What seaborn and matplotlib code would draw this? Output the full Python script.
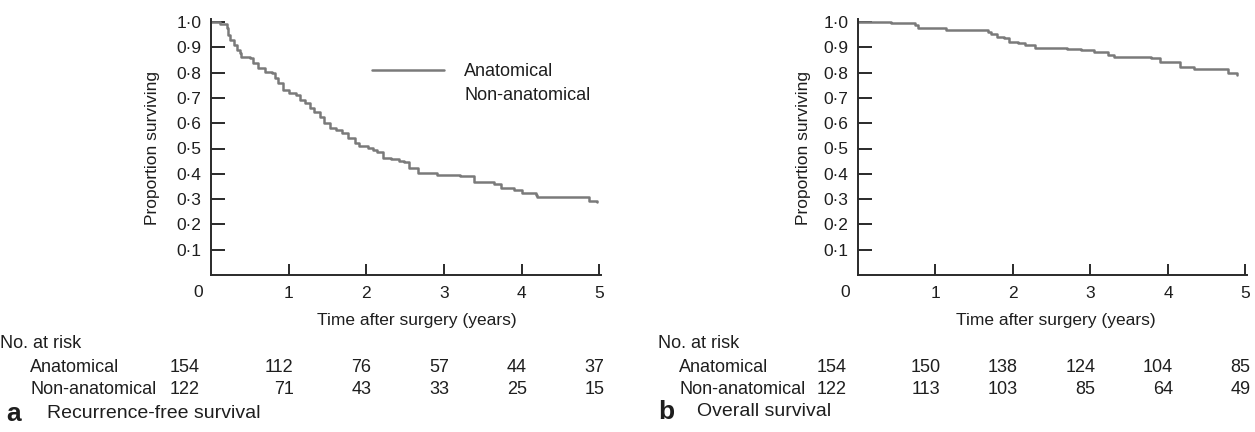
import numpy as np
import pandas as pd
import matplotlib
matplotlib.use("Agg")
import matplotlib.pyplot as plt
from matplotlib.lines import Line2D
import seaborn as sns

# ---------------- data ----------------
# a: Recurrence-free survival, Anatomical group (KM steps)
rfs_time = [0.00, 0.115, 0.20, 0.22, 0.24, 0.29, 0.33, 0.37, 0.39, 0.50, 0.54, 0.61,
            0.69, 0.78, 0.82, 0.86, 0.93, 1.01, 1.10, 1.14, 1.21, 1.27, 1.33, 1.40,
            1.46, 1.53, 1.61, 1.68, 1.76, 1.85, 1.91, 2.02, 2.08, 2.14, 2.21, 2.32,
            2.42, 2.49, 2.55, 2.66, 2.91, 3.21, 3.38, 3.64, 3.73, 3.90, 4.00, 4.18,
            4.20, 4.86, 4.97]
rfs_surv = [1.000, 0.994, 0.975, 0.949, 0.929, 0.909, 0.889, 0.876, 0.863, 0.857, 0.837, 0.820,
            0.804, 0.797, 0.777, 0.758, 0.731, 0.718, 0.711, 0.692, 0.679, 0.661, 0.645, 0.626,
            0.600, 0.582, 0.573, 0.560, 0.540, 0.520, 0.510, 0.501, 0.494, 0.487, 0.464, 0.457,
            0.451, 0.448, 0.422, 0.402, 0.395, 0.391, 0.366, 0.358, 0.343, 0.336, 0.325, 0.316,
            0.310, 0.292, 0.287]

# b: Overall survival, Anatomical group (KM steps)
os_time = [0.00, 0.43, 0.73, 0.78, 1.14, 1.68, 1.72, 1.80, 1.89, 1.95, 2.06, 2.15,
           2.28, 2.70, 2.88, 3.05, 3.22, 3.30, 3.78, 3.90, 4.16, 4.33, 4.78, 4.89]
os_surv = [1.000, 0.995, 0.988, 0.975, 0.968, 0.959, 0.951, 0.942, 0.936, 0.920, 0.916, 0.909,
           0.896, 0.892, 0.889, 0.880, 0.870, 0.863, 0.856, 0.841, 0.823, 0.814, 0.797, 0.791]

groups = ["Anatomical", "Non-anatomical"]
risk_times = [0, 1, 2, 3, 4, 5]
rfs_risk_anat = [154, 112, 76, 57, 44, 37]
rfs_risk_non = [122, 71, 43, 33, 25, 15]
os_risk_anat = [154, 150, 138, 124, 104, 85]
os_risk_non = [122, 113, 103, 85, 64, 49]

y_ticks = [0.1, 0.2, 0.3, 0.4, 0.5, 0.6, 0.7, 0.8, 0.9, 1.0]
x_ticks = [1, 2, 3, 4, 5]

panel_letters = ["a", "b"]
panel_titles = ["Recurrence-free survival", "Overall survival"]

# ---------------- style ----------------
sns.set_style("white")
plt.rcParams['font.family'] = ['Liberation Sans', 'DejaVu Sans']
TXT = "#1e1e1e"
LINE = "#7a7a7a"
SPINE = "#2a2a2a"

W, H = 1255, 432
fig = plt.figure(figsize=(W / 100, H / 100), dpi=100)

ymax = 1.01
ax_h = 253 * ymax / H
ax_a = fig.add_axes([211 / W, 1 - 275 / H, 390 / W, ax_h])
ax_b = fig.add_axes([858 / W, 1 - 275 / H, 389 / W, ax_h])

df_a = pd.DataFrame({"time": rfs_time, "surv": rfs_surv, "group": groups[0]})
df_b = pd.DataFrame({"time": os_time, "surv": os_surv, "group": groups[0]})

for ax, df in [(ax_a, df_a), (ax_b, df_b)]:
    sns.lineplot(data=df, x="time", y="surv", ax=ax, color=LINE, lw=1.8,
                 drawstyle="steps-post", estimator=None, sort=False, legend=False)
    ax.set_xlim(0, 5.02)
    ax.set_ylim(0, ymax)
    ax.set_xticks(x_ticks)
    ax.set_xticklabels([str(t) for t in x_ticks])
    ax.set_yticks(y_ticks)
    ax.set_yticklabels([f"{v:.1f}".replace(".", "·") for v in y_ticks])
    for s in ["top", "right"]:
        ax.spines[s].set_visible(False)
    for s in ["left", "bottom"]:
        ax.spines[s].set_color(SPINE)
        ax.spines[s].set_linewidth(1.4)
    ax.tick_params(axis="both", direction="in", colors=SPINE, labelcolor=TXT,
                   labelsize=12.5, width=1.4, bottom=True, left=True,
                   top=False, right=False)
    ax.tick_params(axis="x", length=8, pad=8)
    ax.tick_params(axis="y", length=10, pad=7)
    ax.set_xlabel("")
    ax.set_ylabel("")
    # the "0" corner label
    ax.annotate("0", xy=(0, 0), xycoords=("data", "axes fraction"),
                xytext=(-13, -10), textcoords="offset pixels",
                ha="center", va="top", fontsize=12.5, color=TXT)

# legend (panel a)
handles = [Line2D([], [], color=LINE, lw=1.8),
           Line2D([], [], color="none", lw=0)]
ax_a.legend(handles, groups, loc="upper left", bbox_to_anchor=(0.413, 0.83),
            frameon=False, fontsize=13, handlelength=4.0, handletextpad=1.1,
            borderpad=0, borderaxespad=0, labelspacing=0.42, labelcolor=TXT)

# axis titles
fig.text(417 / W, 1 - 320 / H, "Time after surgery (years)", ha="center", va="center",
         fontsize=12.5, color=TXT)
fig.text(1056 / W, 1 - 320 / H, "Time after surgery (years)", ha="center", va="center",
         fontsize=12.5, color=TXT)
fig.text(153 / W, 1 - 148 / H, "Proportion surviving", ha="center", va="center",
         rotation=90, fontsize=12.5, color=TXT)
fig.text(803 / W, 1 - 148 / H, "Proportion surviving", ha="center", va="center",
         rotation=90, fontsize=12.5, color=TXT)

# number at risk tables
tables = [(ax_a, 0, 30, rfs_risk_anat, rfs_risk_non),
          (ax_b, 658, 679, os_risk_anat, os_risk_non)]
for ax, x_head, x_grp, r1, r2 in tables:
    fig.text(x_head / W, 1 - 344 / H, "No. at risk", ha="left", va="center",
             fontsize=13, color=TXT)
    for yy, name, vals in [(367, groups[0], r1), (390, groups[1], r2)]:
        fig.text(x_grp / W, 1 - yy / H, name, ha="left", va="center",
                 fontsize=13, color=TXT)
        for t, v in zip(risk_times, vals):
            dx = -11 if t == 0 else 5
            ax.annotate(str(v), xy=(t, 1 - yy / H),
                        xycoords=("data", "figure fraction"),
                        xytext=(dx, 0), textcoords="offset pixels",
                        ha="right", va="center", fontsize=13, color=TXT,
                        annotation_clip=False)

# panel captions
for (xl, xt, yy), letter, title in zip([(6, 47, 414), (658, 697, 412)], panel_letters, panel_titles):
    fig.text(xl / W, 1 - yy / H, letter, ha="left", va="center", fontsize=19,
             fontweight="bold", color=TXT)
    fig.text(xt / W, 1 - yy / H, title, ha="left", va="center", fontsize=14, color=TXT)

fig.savefig("out.png", dpi=100)
